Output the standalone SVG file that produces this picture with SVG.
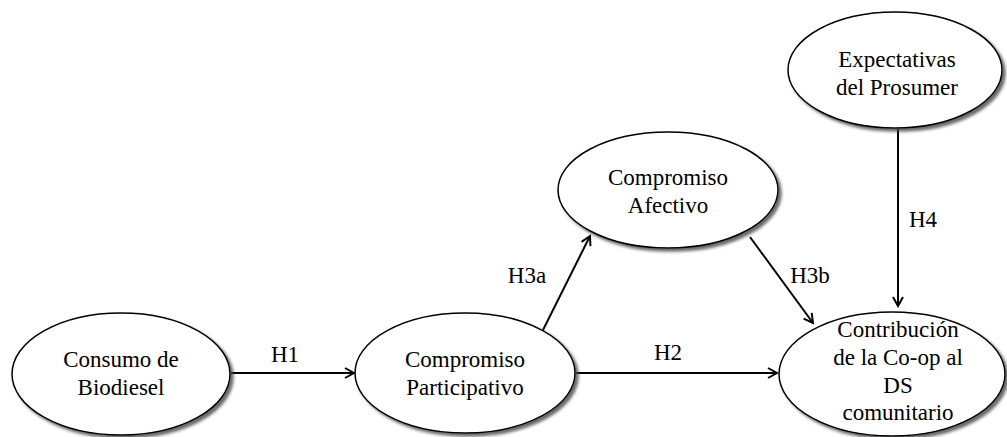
<svg xmlns="http://www.w3.org/2000/svg" width="1007" height="437" viewBox="0 0 1007 437">
<style>
.node ellipse{fill:#fff;stroke:#000;stroke-width:1.5;filter:url(#sh)}
text{font-family:"Liberation Serif","Times New Roman",serif;font-size:23px;fill:#000;text-anchor:middle}
.conn line{stroke:#000;stroke-width:2;marker-end:url(#arr)}
.lbl{text-anchor:start}
</style>
<defs>
<filter id="sh" x="-10%" y="-10%" width="125%" height="125%">
<feDropShadow dx="3" dy="3" stdDeviation="1.5" flood-color="#444" flood-opacity="0.8"/>
</filter>
<marker id="arr" markerWidth="12" markerHeight="12" refX="10" refY="6" orient="auto" markerUnits="userSpaceOnUse">
<path d="M1,1 L10,6 L1,11" fill="none" stroke="#000" stroke-width="2"/>
</marker>
</defs>
<rect width="1007" height="437" fill="#fff"/>
<g id="connectors" class="conn">
<line x1="231" y1="373" x2="354" y2="373"/>
<line x1="576" y1="373" x2="777" y2="373"/>
<line x1="543" y1="330" x2="590" y2="236"/>
<line x1="750" y1="237" x2="813" y2="323"/>
<line x1="898" y1="129" x2="898" y2="306"/>
</g>
<g id="labels">
<text x="285" y="362">H1</text>
<text x="668" y="360">H2</text>
<text x="527" y="283">H3a</text>
<text x="810" y="283">H3b</text>
<text x="923" y="227">H4</text>
</g>
<g id="n-consumo" class="node">
<ellipse cx="121" cy="374" rx="109" ry="61"/>
<text x="121" y="367">Consumo de</text>
<text x="121" y="395">Biodiesel</text>
</g>
<g id="n-participativo" class="node">
<ellipse cx="465" cy="373" rx="110" ry="60"/>
<text x="465" y="367">Compromiso</text>
<text x="465" y="395">Participativo</text>
</g>
<g id="n-afectivo" class="node">
<ellipse cx="668" cy="190" rx="110" ry="58"/>
<text x="668" y="185">Compromiso</text>
<text x="668" y="213">Afectivo</text>
</g>
<g id="n-expectativas" class="node">
<ellipse cx="895" cy="70" rx="107" ry="58"/>
<text x="897" y="67">Expectativas</text>
<text x="897" y="95">del Prosumer</text>
</g>
<g id="n-contribucion" class="node">
<ellipse cx="892" cy="374" rx="113" ry="62"/>
<text x="898" y="337">Contribución</text>
<text x="898" y="365">de la Co-op al</text>
<text x="898" y="393">DS</text>
<text x="898" y="420">comunitario</text>
</g>
</svg>
